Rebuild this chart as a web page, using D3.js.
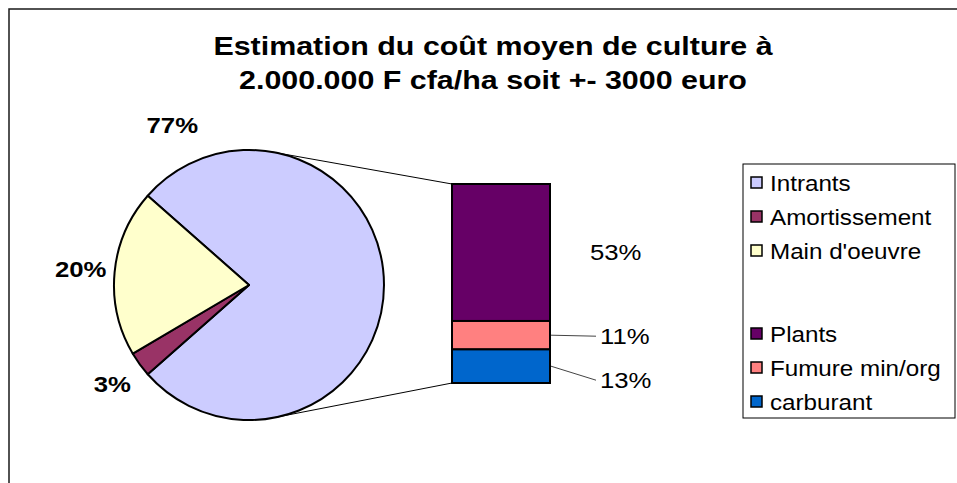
<!DOCTYPE html>
<html>
<head>
<meta charset="utf-8">
<script src="https://cdn.jsdelivr.net/npm/d3@7"></script>
<style>
  body { margin: 0; background: #fff; }
  svg { display: block; font-family: "Liberation Sans", Arial, sans-serif; }
</style>
</head>
<body>
<svg id="chart" width="957" height="483"></svg>
<script>
// chart data
const titleLines = ["Estimation du coût moyen de culture à", "2.000.000 F cfa/ha soit +- 3000 euro"];
const pieCats = ["Intrants", "Amortissement", "Main d'oeuvre"];
const pieValues = [77, 3, 20];
const pieColors = ["#CCCCFF", "#993366", "#FFFFCC"];
const barCats = ["Plants", "Fumure min/org", "carburant"];
const barValues = [53, 11, 13];
const barColors = ["#660066", "#FF8080", "#0066CC"];

const svg = d3.select("#chart");
const SX = 1.17; // the text in the picture is a bit wide

// text helper, stretched horizontally
function addText(parent, x, y, str, size, weight, anchor, sx) {
  return parent.append("text")
    .attr("transform", `translate(${x},${y}) scale(${sx || SX},1)`)
    .attr("text-anchor", anchor || "start")
    .attr("font-size", size)
    .attr("font-weight", weight || "normal")
    .attr("fill", "#000")
    .text(str);
}

// outer frame
svg.append("rect")
  .attr("x", 9).attr("y", 9)
  .attr("width", 1000).attr("height", 500)
  .attr("fill", "none")
  .attr("stroke", "#1a1a1a")
  .attr("stroke-width", 1.5);

// title
titleLines.forEach((t, i) => addText(svg, 493, 55 + i * 34, t, 26, "bold", "middle"));

// pie
const cx = 249, cy = 285, r = 135;
const total = d3.sum(pieValues);
const a0 = Math.PI / 2 - (pieValues[0] / total) * Math.PI;
const pie = d3.pie().sort(null).startAngle(a0).endAngle(a0 + 2 * Math.PI);
const arcs = pie(pieValues);
const arc = d3.arc().innerRadius(0).outerRadius(r);

const gPie = svg.append("g").attr("transform", `translate(${cx},${cy})`);
gPie.selectAll("path")
  .data(arcs)
  .enter()
  .append("path")
  .attr("d", arc)
  .attr("fill", (d, i) => pieColors[i])
  .attr("stroke", "#000")
  .attr("stroke-width", 2)
  .attr("stroke-linejoin", "round");

// pie labels
arcs.forEach((d, i) => {
  let ang = (d.startAngle + d.endAngle) / 2, rad = 169;
  if (i === 0) { ang = d.startAngle + 0.4; rad = 177; }
  const lx = Math.sin(ang) * rad, ly = -Math.cos(ang) * rad;
  addText(gPie, lx, ly + 8, Math.round(d.value / total * 100) + "%", 22, "bold", "middle");
});

// bar of the split slice
const barX = 452, barW = 98;
const barSum = d3.sum(barValues);
const y = d3.scaleLinear().domain([0, barSum]).range([383, 184]);

// stack from the bottom: last item at the bottom
const segs = [];
let acc = 0;
for (let i = barValues.length - 1; i >= 0; i--) {
  segs[i] = { i: i, v: barValues[i], y0: acc, y1: acc + barValues[i] };
  acc += barValues[i];
}

// connector lines, tangent to the pie
function tangent(px, py, upper) {
  const dx = px - cx, dy = py - cy;
  const d = Math.hypot(dx, dy);
  const th = Math.atan2(dy, dx);
  const al = Math.acos(r / d);
  const c1 = th - al, c2 = th + al;
  const p1 = [cx + r * Math.cos(c1), cy + r * Math.sin(c1)];
  const p2 = [cx + r * Math.cos(c2), cy + r * Math.sin(c2)];
  return upper ? (p1[1] < p2[1] ? p1 : p2) : (p1[1] > p2[1] ? p1 : p2);
}
[[y(barSum), true], [y(0), false]].forEach(([py, up]) => {
  const t = tangent(barX, py, up);
  svg.append("line")
    .attr("x1", t[0]).attr("y1", t[1])
    .attr("x2", barX).attr("y2", py)
    .attr("stroke", "#000")
    .attr("stroke-width", 1);
});

svg.selectAll("rect.seg")
  .data(segs)
  .enter()
  .append("rect")
  .attr("class", "seg")
  .attr("x", barX)
  .attr("y", d => y(d.y1))
  .attr("width", barW)
  .attr("height", d => y(d.y0) - y(d.y1))
  .attr("fill", d => barColors[d.i])
  .attr("stroke", "#000")
  .attr("stroke-width", 2);

// bar labels, small ones pushed down with a leader line
let prevY = -Infinity;
segs.forEach(d => {
  const mid = (y(d.y0) + y(d.y1)) / 2;
  const pct = Math.round(d.v / total * 100) + "%";
  if (d.v >= 20) {
    addText(svg, barX + barW + 40, mid + 8, pct, 22, "normal", "start");
    prevY = -Infinity;
    return;
  }
  const ly = Math.max(mid + 1, prevY + 44);
  prevY = ly;
  svg.append("line")
    .attr("x1", barX + barW + 1).attr("y1", mid)
    .attr("x2", barX + barW + 46).attr("y2", ly)
    .attr("stroke", "#444")
    .attr("stroke-width", 1);
  addText(svg, barX + barW + 50, ly + 8, pct, 22, "normal", "start");
});

// legend
const legend = svg.append("g");
legend.append("rect")
  .attr("x", 743).attr("y", 164)
  .attr("width", 212).attr("height", 254)
  .attr("fill", "#fff")
  .attr("stroke", "#000")
  .attr("stroke-width", 1);

const items = pieCats.map((c, i) => ({ name: c, color: pieColors[i], cy: 183 + i * 34 }))
  .concat(barCats.map((c, i) => ({ name: c, color: barColors[i], cy: 334 + i * 34 })));

items.forEach(it => {
  legend.append("rect")
    .attr("x", 751).attr("y", it.cy - 6)
    .attr("width", 11).attr("height", 11)
    .attr("fill", it.color)
    .attr("stroke", "#000")
    .attr("stroke-width", 1.5);
  addText(legend, 770, it.cy + 8, it.name, 22, "normal", "start", 1.1);
});
</script>
</body>
</html>
